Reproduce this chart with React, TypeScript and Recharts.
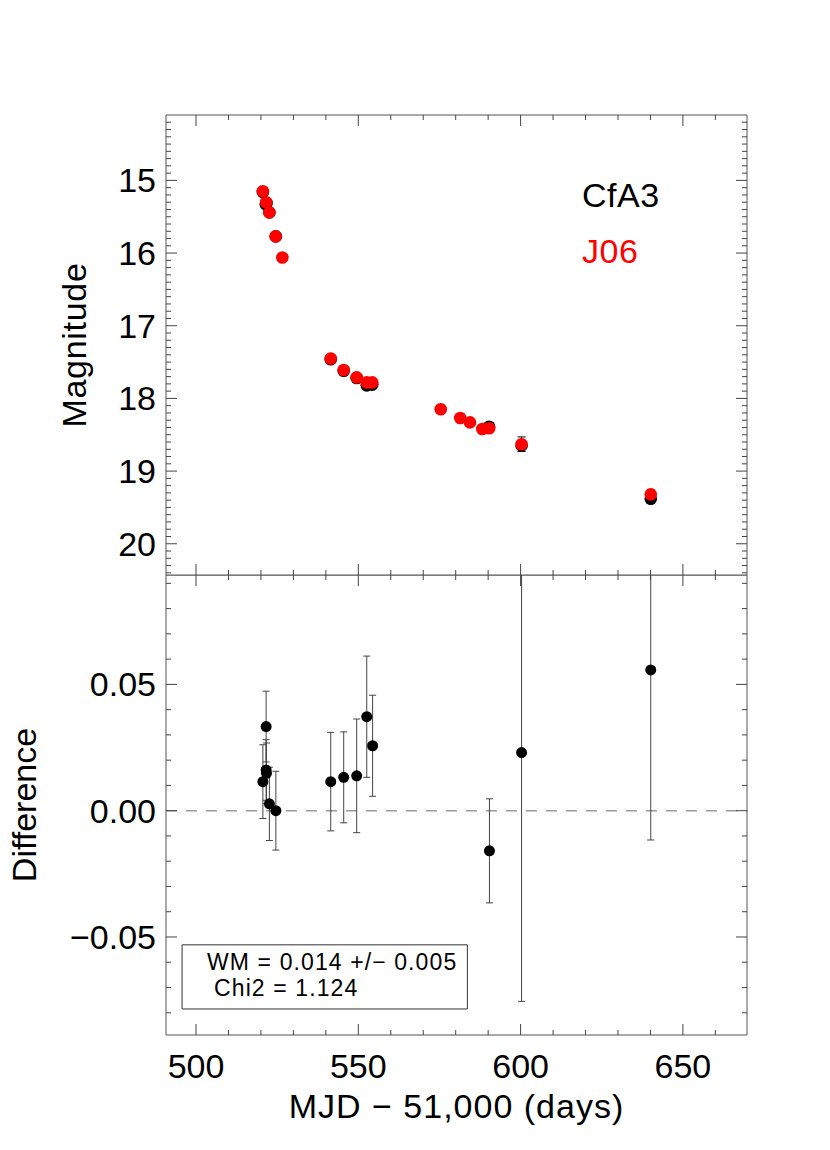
import React from 'react';
import {
  ScatterChart,
  Scatter,
  XAxis,
  YAxis,
  ErrorBar,
  ReferenceLine,
  ReferenceArea,
  CartesianGrid,
  Customized,
} from 'recharts';

// ---------- data ----------
const cfaMjd = [520.6, 521.5, 521.6, 521.7, 522.6, 524.6, 541.5, 545.5, 549.5, 552.6, 554.3, 590.3, 600.3, 640.1];
const cfaMag = [15.16, 15.33, 15.32, 15.31, 15.44, 15.77, 17.46, 17.62, 17.72, 17.82, 17.81, 18.39, 18.65, 19.38];
const cfaErr = [0.01, 0.01, 0.01, 0.01, 0.01, 0.01, 0.015, 0.012, 0.02, 0.02, 0.015, 0.015, 0.02, 0.03];

const j06Mjd = [520.6, 521.6, 522.6, 524.5, 526.6, 541.5, 545.5, 549.5, 552.6, 554.3, 575.4, 581.4, 584.4, 588.2, 590.3, 600.3, 640.1];
const j06Mag = [15.15, 15.3, 15.44, 15.77, 16.06, 17.45, 17.61, 17.71, 17.78, 17.78, 18.15, 18.27, 18.33, 18.42, 18.41, 18.63, 19.32];
const j06Err = [0.008, 0.008, 0.008, 0.008, 0.015, 0.015, 0.01, 0.012, 0.015, 0.015, 0.012, 0.012, 0.012, 0.015, 0.02, 0.1, 0.06];

const diffMjd = [520.6, 521.6, 521.6, 521.7, 522.6, 524.6, 541.5, 545.5, 549.5, 552.6, 554.4, 590.4, 600.3, 640.1];
const diffVal = [0.0115, 0.0333, 0.0161, 0.0148, 0.0027, 0.0, 0.0115, 0.0132, 0.0138, 0.0372, 0.0257, -0.0159, 0.023, 0.0557];
const diffErr = [0.0146, 0.014, 0.012, 0.012, 0.0145, 0.0156, 0.0195, 0.018, 0.0225, 0.024, 0.02, 0.0206, 0.0985, 0.0673];

const xMajorTicks = [500, 550, 600, 650];
const xTickLabels = ['500', '550', '600', '650'];
const magMajorTicks = [15, 16, 17, 18, 19, 20];
const magTickLabels = ['15', '16', '17', '18', '19', '20'];
const diffMajorTicks = [-0.05, 0, 0.05];
const diffTickLabels = ['\u22120.05', '0.00', '0.05'];

const legendNames = ['CfA3', 'J06'];
const statLines = ['WM = 0.014 +/\u2212 0.005', 'Chi2 = 1.124'];
const xTitle = 'MJD \u2212 51,000 (days)';
const magTitle = 'Magnitude';
const diffTitle = 'Difference';

// box of the statistics annotation (data units of lower panel)
const statBoxX = [495.7, 583.6];
const statBoxY = [-0.0785, -0.0531];

// ---------- axis setup ----------
const xDomain: [number, number] = [490.75, 669.75];
const magDomain: [number, number] = [14.1, 20.43];
const diffDomain: [number, number] = [-0.0888, 0.0933];

const steps = (from: number, to: number, step: number) => {
  const out: number[] = [];
  const n = Math.round((to - from) / step);
  for (let i = 0; i <= n; i++) out.push(Math.round((from + i * step) * 1000) / 1000);
  return out;
};
const xAllTicks = steps(500, 660, 10);
const magAllTicks = steps(14.2, 20.4, 0.1);
const diffAllTicks = steps(-0.08, 0.09, 0.01);

// ---------- layout ----------
const W = 830;
const H = 1150;
const PL = 166;
const PR = 747;
const PT = 115;
const PM = 575;
const PB = 1035;
const FONT = '"Liberation Sans", Arial, Helvetica, sans-serif';
const FS = 34;
const AXIS = '#555';
const TICK = '#444';

const LEFT_W = 60;
const RIGHT_W = 10;
const TOP_H = 10;
const BOTTOM_H = 60;

const findIdx = (arr: number[], v: number) => arr.findIndex((m) => Math.abs(m - v) < 1e-6);

const makeXTick = (side: 'top' | 'bottom', labels: boolean) => (props: any) => {
  const { x, y, payload } = props;
  const idx = findIdx(xMajorTicks, payload.value);
  const len = idx >= 0 ? 11 : 5;
  const dir = side === 'bottom' ? -1 : 1;
  return (
    <g>
      <line x1={x} y1={y} x2={x} y2={y + dir * len} stroke={TICK} strokeWidth={1} />
      {labels && idx >= 0 && (
        <text x={x} y={y + 43} textAnchor="middle" fontSize={FS} fill="#000" fontFamily={FONT}>
          {xTickLabels[idx]}
        </text>
      )}
    </g>
  );
};

const makeYTick = (side: 'left' | 'right', majors: number[], labelArr: string[] | null) => (props: any) => {
  const { x, y, payload } = props;
  const idx = findIdx(majors, payload.value);
  const len = idx >= 0 ? 11 : 5;
  const dir = side === 'left' ? 1 : -1;
  return (
    <g>
      <line x1={x} y1={y} x2={x + dir * len} y2={y} stroke={TICK} strokeWidth={1} />
      {labelArr && idx >= 0 && (
        <text x={x - 10} y={y + 12} textAnchor="end" fontSize={FS} fill="#000" fontFamily={FONT}>
          {labelArr[idx]}
        </text>
      )}
    </g>
  );
};

const noShape = () => <g />;

const redDot = (p: any) => <circle cx={p.cx} cy={p.cy} r={6.3} fill="#ff0000" />;
const blackDot = (p: any) => <circle cx={p.cx} cy={p.cy} r={6.3} fill="#000" />;
const blackDotSmall = (p: any) => <circle cx={p.cx} cy={p.cy} r={5.5} fill="#000" />;

const TopTexts = () => (
  <g fontFamily={FONT}>
    <text x={582} y={207} fontSize={FS} fill="#000" letterSpacing={0.5}>{legendNames[0]}</text>
    <text x={582} y={263} fontSize={FS} fill="#ff0000" letterSpacing={0.5}>{legendNames[1]}</text>
    <text
      x={86}
      y={345}
      fontSize={FS}
      fill="#000"
      textAnchor="middle"
      letterSpacing={0.7}
      transform="rotate(-90 86 345)"
    >
      {magTitle}
    </text>
  </g>
);

const BottomTexts = () => (
  <g fontFamily={FONT}>
    <text x={36} y={805} fontSize={FS} fill="#000" textAnchor="middle" transform="rotate(-90 36 805)">
      {diffTitle}
    </text>
    <text x={(PL + PR) / 2} y={1118} fontSize={FS} fill="#000" textAnchor="middle" letterSpacing={1}>
      {xTitle}
    </text>
  </g>
);

const StatLabel = (props: any) => {
  const vb = props.viewBox || {};
  const x = vb.x ?? 0;
  const y = vb.y ?? 0;
  return (
    <g fontFamily={FONT} fontSize={23} fill="#000" letterSpacing={1.1}>
      <text x={x + 25} y={y + 25}>{statLines[0]}</text>
      <text x={x + 32} y={y + 51}>{statLines[1]}</text>
    </g>
  );
};

export default function App() {
  const cfaData = cfaMjd.map((x, i) => ({ x, y: cfaMag[i], e: cfaErr[i] }));
  const j06Data = j06Mjd.map((x, i) => ({ x, y: j06Mag[i], e: j06Err[i] }));
  const diffData = diffMjd.map((x, i) => ({ x, y: diffVal[i], e: diffErr[i] }));

  const topMargin = {
    top: PT - TOP_H,
    left: PL - LEFT_W,
    right: W - PR - RIGHT_W,
    bottom: H - PM - BOTTOM_H,
  };
  const botMargin = {
    top: PM - TOP_H,
    left: PL - LEFT_W,
    right: W - PR - RIGHT_W,
    bottom: H - PB - BOTTOM_H,
  };

  const axisLine = { stroke: AXIS, strokeWidth: 1 };

  return (
    <div style={{ position: 'absolute', left: 0, top: 0, width: W, height: H, background: '#fff' }}>
      {/* lower panel (drawn first, underneath) */}
      <div style={{ position: 'absolute', left: 0, top: 0 }}>
        <ScatterChart width={W} height={H} margin={botMargin} style={{ fontFamily: FONT }}>
          <XAxis
            xAxisId="b"
            type="number"
            dataKey="x"
            orientation="bottom"
            domain={xDomain}
            allowDataOverflow
            ticks={xAllTicks}
            interval={0}
            height={BOTTOM_H}
            tickSize={0}
            tickMargin={0}
            tickLine={false}
            axisLine={axisLine}
            tick={makeXTick('bottom', true)}
          />
          <XAxis
            xAxisId="t"
            type="number"
            dataKey="x"
            orientation="top"
            domain={xDomain}
            allowDataOverflow
            ticks={xAllTicks}
            interval={0}
            height={TOP_H}
            tickSize={0}
            tickMargin={0}
            tickLine={false}
            axisLine={axisLine}
            tick={makeXTick('top', false)}
          />
          <YAxis
            yAxisId="l"
            type="number"
            dataKey="y"
            orientation="left"
            domain={diffDomain}
            allowDataOverflow
            ticks={diffAllTicks}
            interval={0}
            width={LEFT_W}
            tickSize={0}
            tickMargin={0}
            tickLine={false}
            axisLine={axisLine}
            tick={makeYTick('left', diffMajorTicks, diffTickLabels)}
          />
          <YAxis
            yAxisId="r"
            type="number"
            dataKey="y"
            orientation="right"
            domain={diffDomain}
            allowDataOverflow
            ticks={diffAllTicks}
            interval={0}
            width={RIGHT_W}
            tickSize={0}
            tickMargin={0}
            tickLine={false}
            axisLine={axisLine}
            tick={makeYTick('right', diffMajorTicks, null)}
          />
          <ReferenceLine
            xAxisId="b"
            yAxisId="l"
            y={0}
            stroke="#999"
            strokeWidth={1.5}
            strokeDasharray="11 9"
          />
          <ReferenceArea
            xAxisId="b"
            yAxisId="l"
            x1={statBoxX[0]}
            x2={statBoxX[1]}
            y1={statBoxY[0]}
            y2={statBoxY[1]}
            fill="#fff"
            fillOpacity={0}
            stroke="#333"
            strokeWidth={1}
            label={<StatLabel />}
          />
          <Scatter
            name="Difference"
            data={diffData}
            xAxisId="b"
            yAxisId="l"
            shape={blackDotSmall}
            isAnimationActive={false}
          >
            <ErrorBar dataKey="e" direction="y" width={3.5} stroke="#444" strokeWidth={1} isAnimationActive={false} />
          </Scatter>
          <Customized component={BottomTexts} />
        </ScatterChart>
      </div>
      {/* upper panel (on top; its white plot background hides overflowing error bars) */}
      <div style={{ position: 'absolute', left: 0, top: 0 }}>
        <ScatterChart width={W} height={H} margin={topMargin} style={{ fontFamily: FONT }}>
          <CartesianGrid xAxisId="b" yAxisId="l" horizontal={false} vertical={false} fill="#fff" stroke="none" />
          <XAxis
            xAxisId="b"
            type="number"
            dataKey="x"
            orientation="bottom"
            domain={xDomain}
            allowDataOverflow
            ticks={xAllTicks}
            interval={0}
            height={BOTTOM_H}
            tickSize={0}
            tickMargin={0}
            tickLine={false}
            axisLine={axisLine}
            tick={makeXTick('bottom', false)}
          />
          <XAxis
            xAxisId="t"
            type="number"
            dataKey="x"
            orientation="top"
            domain={xDomain}
            allowDataOverflow
            ticks={xAllTicks}
            interval={0}
            height={TOP_H}
            tickSize={0}
            tickMargin={0}
            tickLine={false}
            axisLine={axisLine}
            tick={makeXTick('top', false)}
          />
          <YAxis
            yAxisId="l"
            type="number"
            dataKey="y"
            orientation="left"
            domain={magDomain}
            reversed
            allowDataOverflow
            ticks={magAllTicks}
            interval={0}
            width={LEFT_W}
            tickSize={0}
            tickMargin={0}
            tickLine={false}
            axisLine={axisLine}
            tick={makeYTick('left', magMajorTicks, magTickLabels)}
          />
          <YAxis
            yAxisId="r"
            type="number"
            dataKey="y"
            orientation="right"
            domain={magDomain}
            reversed
            allowDataOverflow
            ticks={magAllTicks}
            interval={0}
            width={RIGHT_W}
            tickSize={0}
            tickMargin={0}
            tickLine={false}
            axisLine={axisLine}
            tick={makeYTick('right', magMajorTicks, null)}
          />
          <Scatter
            name="CfA3"
            data={cfaData}
            xAxisId="b"
            yAxisId="l"
            shape={blackDot}
            isAnimationActive={false}
          />
          <Scatter
            name="J06"
            data={j06Data}
            xAxisId="b"
            yAxisId="l"
            shape={redDot}
            isAnimationActive={false}
          />
          <Scatter data={cfaData} xAxisId="b" yAxisId="l" shape={noShape} isAnimationActive={false}>
            <ErrorBar dataKey="e" direction="y" width={4} stroke="#000" strokeWidth={1} isAnimationActive={false} />
          </Scatter>
          <Scatter data={j06Data} xAxisId="b" yAxisId="l" shape={noShape} isAnimationActive={false}>
            <ErrorBar dataKey="e" direction="y" width={4} stroke="#000" strokeWidth={1} isAnimationActive={false} />
          </Scatter>
          <Customized component={TopTexts} />
        </ScatterChart>
      </div>
    </div>
  );
}
